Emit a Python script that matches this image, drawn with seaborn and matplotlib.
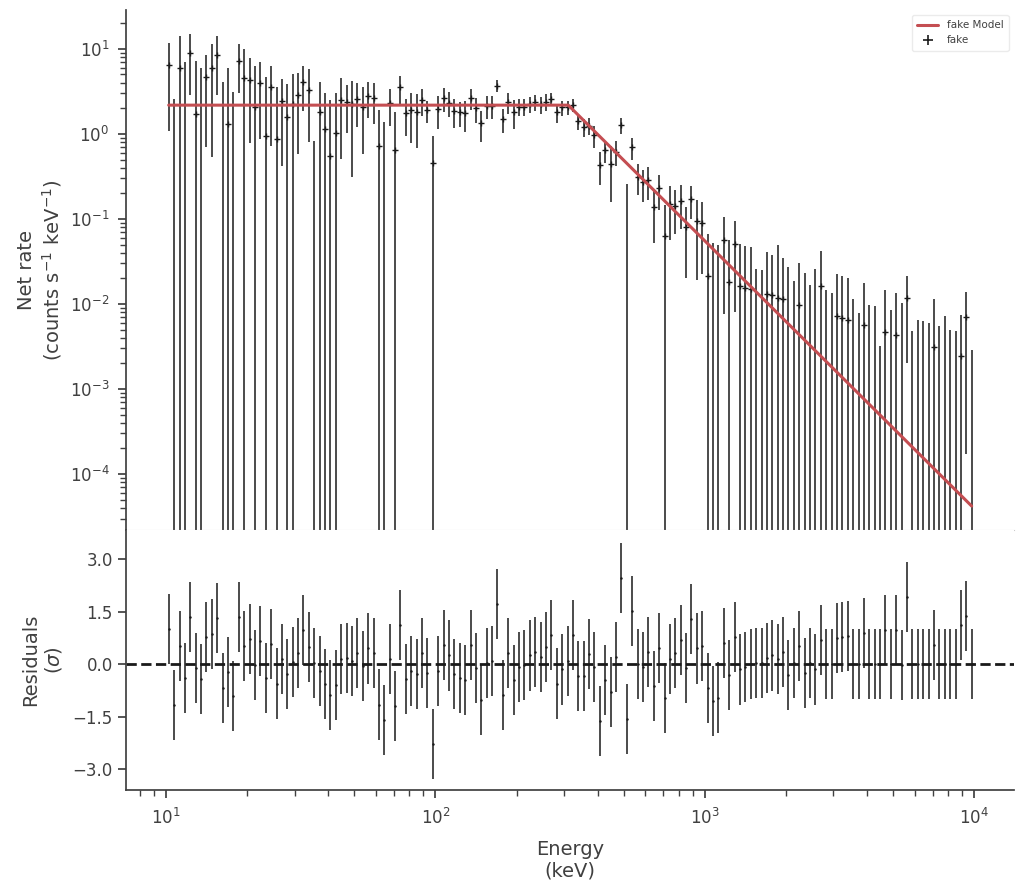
import numpy as np
import pandas as pd
import matplotlib
matplotlib.use("Agg")
import matplotlib.pyplot as plt
from matplotlib.lines import Line2D
import seaborn as sns

# 150 log-spaced energy bins between 10 keV and 10 MeV
edges = np.geomspace(10, 1e4, 151)
energy = np.sqrt(edges[:-1] * edges[1:])

# net rate per bin (0 = not drawn on log axis) and its 1-sigma error
rate = [
    6.48, 0, 5.93, 0, 8.9, 1.71, 0, 4.64, 5.93, 8.5,
    0, 1.30, 0, 7.22, 4.52, 4.28, 2.06, 3.98, 0.94, 3.54,
    0.87, 2.42, 1.57, 2.24, 2.88, 4.06, 3.29, 0, 1.80, 1.15,
    0.547, 1.02, 2.51, 2.38, 2.24, 2.58, 2.06, 2.80, 2.63, 0.72,
    0, 2.30, 0.64, 3.54, 1.75, 1.92, 1.81, 2.51, 1.90, 0.45,
    1.97, 2.67, 2.34, 1.86, 1.81, 1.75, 2.63, 2.00, 1.34, 2.15,
    2.14, 3.70, 1.49, 2.36, 1.83, 2.10, 2.10, 2.24, 2.36, 2.24,
    2.40, 2.58, 1.80, 2.05, 2.06, 2.19, 1.41, 1.20, 1.25, 0.97,
    0.43, 0.64, 0.44, 0.62, 1.28, 0, 0.70, 0.315, 0.27, 0.287,
    0.137, 0.229, 0.063, 0.151, 0.143, 0.164, 0.080, 0.172, 0.094, 0.0895,
    0.0216, 0, 0, 0.0566, 0.0183, 0.051, 0.0164, 0.0155, 0.0152, 0,
    0, 0.013, 0.0126, 0.0118, 0.0115, 0, 0, 0.0097, 0, 0,
    0, 0.0162, 0, 0, 0.00726, 0.0069, 0.00645, 0, 0, 0.00565,
    0, 0, 0, 0.00465, 0, 0.0043, 0, 0.0118, 0, 0,
    0, 0, 0.00311, 0, 0, 0, 0, 0.00242, 0.00707, 0,
]
rate_err = [
    5.4, 2.6, 8.4, 7.0, 6.0, 5.4, 6.0, 3.93, 5.4, 5.6,
    4.06, 4.63, 3.09, 4.2, 5.4, 3.5, 4.2, 3.1, 3.7, 2.82,
    2.67, 2.0, 2.27, 2.8, 2.3, 2.2, 2.48, 0.82, 2.26, 1.86,
    1.96, 1.98, 2.0, 1.36, 1.93, 1.37, 1.48, 1.26, 1.32, 1.2,
    1.40, 1.06, 1.19, 1.27, 0.81, 1.14, 1.12, 0.87, 0.54, 0.5,
    0.83, 0.84, 0.75, 0.70, 0.59, 0.71, 0.73, 0.67, 0.54, 0.65,
    0.66, 0.62, 0.46, 0.65, 0.68, 0.46, 0.46, 0.46, 0.52, 0.51,
    0.53, 0.43, 0.45, 0.42, 0.41, 0.36, 0.30, 0.28, 0.27, 0.28,
    0.18, 0.18, 0.28, 0.20, 0.27, 0.26, 0.20, 0.125, 0.11, 0.12,
    0.085, 0.10, 0.084, 0.094, 0.076, 0.088, 0.06, 0.073, 0.075, 0.067,
    0.045, 0.0525, 0.049, 0.049, 0.038, 0.043, 0.034, 0.032, 0.032, 0.026,
    0.0249, 0.0275, 0.0254, 0.037, 0.0235, 0.0273, 0.0188, 0.0203, 0.0233, 0.0167,
    0.0256, 0.026, 0.0145, 0.0136, 0.015, 0.0143, 0.0137, 0.0113, 0.0078, 0.0119,
    0.0098, 0.0096, 0.0032, 0.0099, 0.0085, 0.009, 0.0103, 0.0098, 0.00486, 0.00656,
    0.0063, 0.006, 0.0082, 0.00545, 0.0072, 0.005, 0.00477, 0.0051, 0.0069, 0.0029,
]
residuals = [
    1.02, -1.17, 0.51, -0.38, 1.36, -0.10, -0.43, 0.79, 0.85, 1.33,
    -0.67, -0.22, -0.91, 1.36, 0.51, 0.72, -0.02, 0.66, -0.38, 0.57,
    -0.55, 0.14, -0.29, 0.06, 0.33, 0.97, 0.49, 0.03, -0.18, -0.57,
    -0.89, -0.60, 0.16, 0.17, 0.08, 0.31, -0.04, 0.45, 0.33, -1.15,
    -1.58, 0.14, -1.18, 1.12, -0.41, -0.18, -0.27, 0.31, -0.24, -2.29,
    -0.18, 0.56, 0.25, -0.28, -0.38, -0.44, 0.56, -0.10, -1.01, 0.04,
    0.10, 1.71, -0.88, 0.33, -0.45, -0.08, -0.03, 0.25, 0.36, 0.21,
    0.48, 0.83, -0.55, -0.15, 0.10, 0.83, -0.34, -0.34, 0.28, -0.07,
    -1.62, -0.46, -0.78, 0.22, 2.47, -1.55, 1.52, 0.02, -0.07, 0.36,
    -0.61, 0.47, -0.97, 0.16, 0.33, 0.70, -0.12, 1.29, 0.45, 0.53,
    -0.69, -1.04, -0.95, 0.62, -0.31, 0.79, -0.15, -0.07, 0.0, 0.03,
    0.03, 0.19, 0.25, 0.16, 0.36, -0.31, 0.03, 0.51, -0.24, 0.03,
    -0.15, 0.68, 0.0, 0.0, 0.75, 0.78, 0.81, 0.0, 0.0, 0.88,
    0.0, 0.0, 0.0, 0.97, 0.0, 0.99, -0.03, 1.92, 0.0, 0.0,
    0.0, 0.0, 0.56, 0.0, 0.0, 0.0, 0.0, 1.11, 1.39, 0.0,
]

# broken power-law model (flat, then falling) at its corner points
model_energy = [10.23, 311.0, 9772.0]
model_rate = [2.18, 2.18, 4.2e-5]

df = pd.DataFrame({"energy": energy, "rate": rate, "err": rate_err, "resid": residuals})
model = pd.DataFrame({"energy": model_energy, "rate": model_rate})

sns.set_theme(style="ticks", context="notebook")
plt.rcParams["font.family"] = ["DejaVu Sans"]
plt.rcParams["axes.labelsize"] = 14
plt.rcParams["xtick.labelsize"] = 12
plt.rcParams["ytick.labelsize"] = 12
plt.rcParams["text.color"] = "0.25"
plt.rcParams["axes.labelcolor"] = "0.25"
plt.rcParams["xtick.color"] = "0.25"
plt.rcParams["ytick.color"] = "0.25"
plt.rcParams["axes.edgecolor"] = "0.25"

red = "#C44E52"

fig, (ax0, ax1) = plt.subplots(2, 1, sharex=True, figsize=(10.24, 8.94), dpi=100,
                               gridspec_kw={"height_ratios": [2, 1], "hspace": 0})
fig.subplots_adjust(left=0.123, right=0.990, top=0.989, bottom=0.116)

ax0.set_xscale("log")
ax0.set_yscale("log")

ax0.errorbar(df["energy"], df["rate"], yerr=df["err"], fmt="+", color="k",
             ms=5, mew=1.0, elinewidth=1.1, capsize=0, zorder=2)
sns.lineplot(data=model, x="energy", y="rate", ax=ax0, color=red, lw=2.2,
             zorder=3, sort=False)

ax0.set_xlim(7.1, 1.4e4)
ax0.set_ylim(2.19e-5, 28.8)
ax0.set_ylabel("Net rate\n(counts s$^{-1}$ keV$^{-1}$)")
ax0.set_xlabel("")
ax0.tick_params(axis="x", which="both", bottom=False, labelbottom=False)
ax0.tick_params(axis="y", which="major", pad=6)
sns.despine(ax=ax0)
ax0.spines["bottom"].set_color("#cccccc")
ax0.spines["bottom"].set_linewidth(0.8)

handles = [Line2D([], [], color=red, lw=2.2),
           Line2D([], [], ls="none", marker="+", color="k", ms=7, mew=1.2)]
leg = ax0.legend(handles, ["fake Model", "fake"], loc="upper right",
                 fontsize=7.5, frameon=True, borderpad=0.5)
leg.get_frame().set_edgecolor("#e6e6e6")

ax1.errorbar(df["energy"], df["resid"], yerr=1.0, fmt=".", color="k", ms=1.5,
             elinewidth=1.1, capsize=0)
ax1.axhline(0, color="#1a1a1a", ls="--", lw=2)
ax1.set_ylim(-3.6, 3.83)
ax1.set_yticks([-3.0, -1.5, 0.0, 1.5, 3.0])
ax1.set_ylabel("Residuals\n($\\sigma$)")
ax1.set_xlabel("Energy\n(keV)", labelpad=8)
ax1.tick_params(axis="x", which="major", pad=7)
sns.despine(ax=ax1)

fig.align_ylabels([ax0, ax1])
fig.savefig("out.png", dpi=100)
